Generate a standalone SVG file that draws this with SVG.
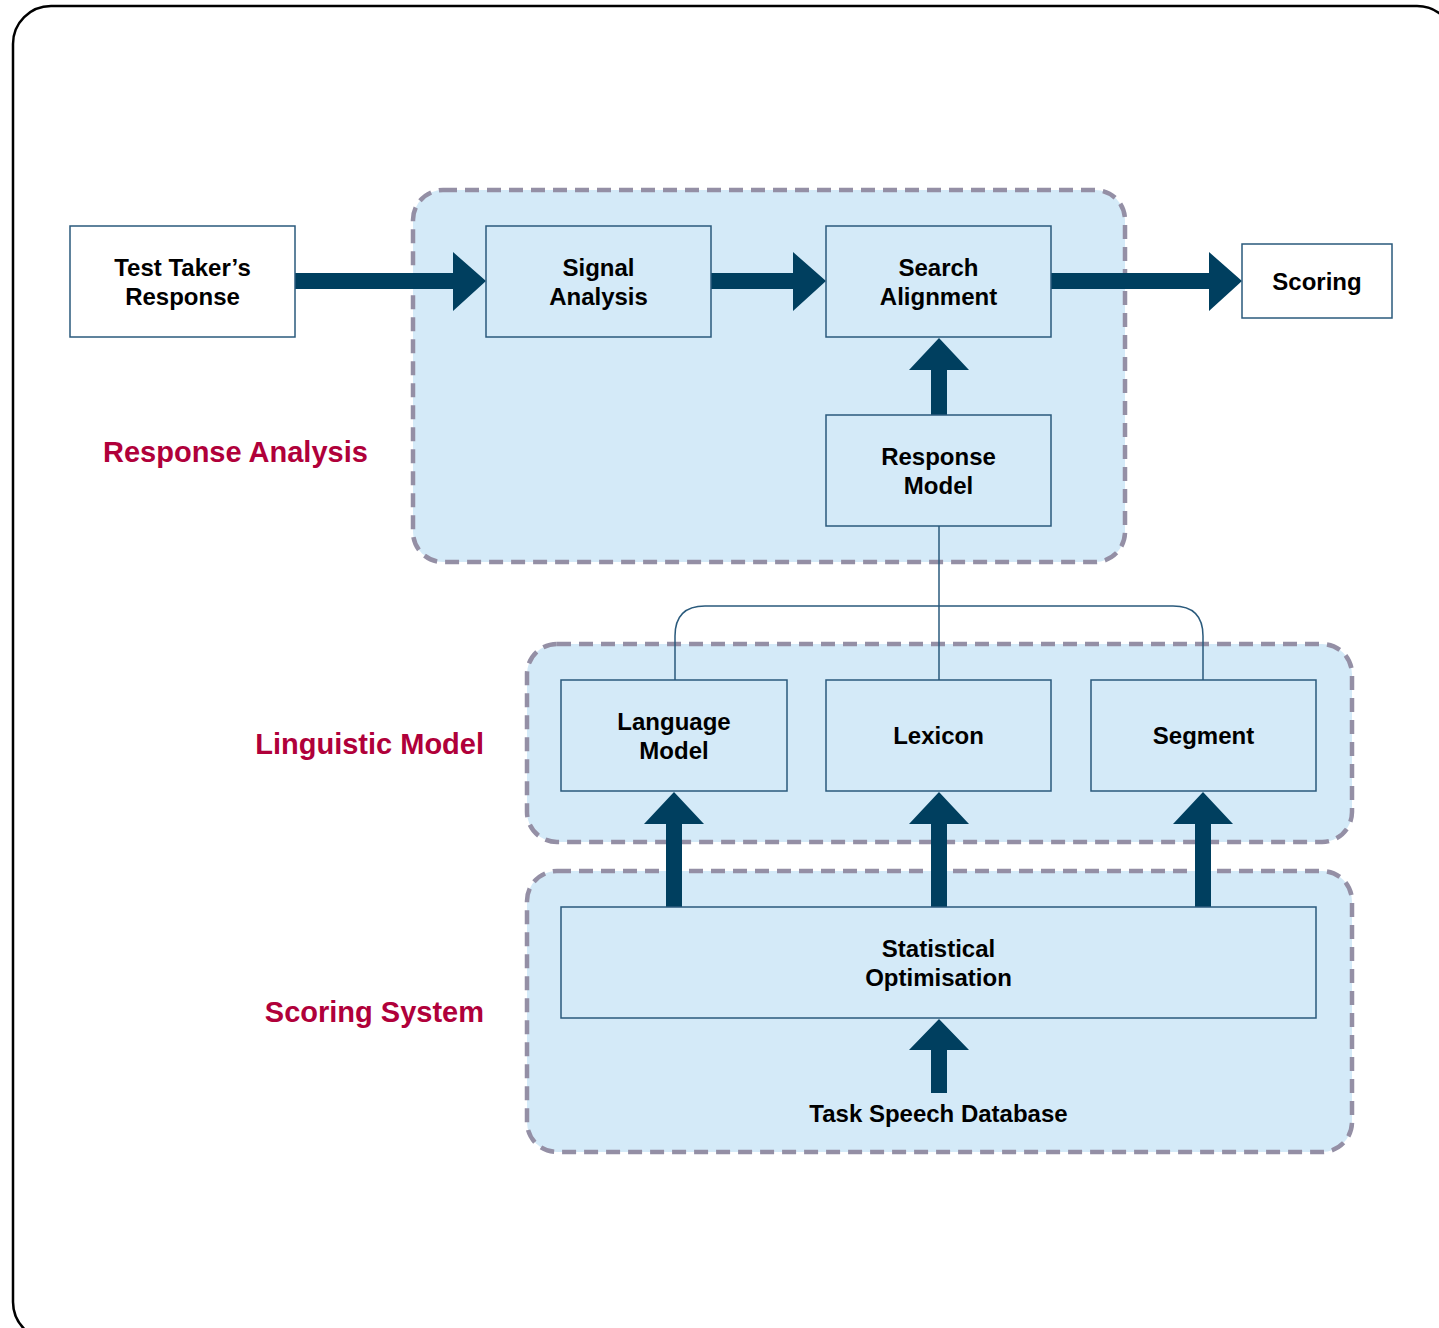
<svg xmlns="http://www.w3.org/2000/svg" width="1439" height="1328" viewBox="0 0 1439 1328">
<style>
.grp{fill:#d4eaf8;stroke:#948fa5;stroke-width:4.5;stroke-dasharray:14 8}
.box{fill:#d4eaf8;stroke:#2a5a7c;stroke-width:1.5}
.wbox{fill:#ffffff;stroke:#2a5a7c;stroke-width:1.5}
.lbl{font-family:"Liberation Sans",Arial,sans-serif;font-weight:bold;font-size:24px;fill:#000;text-anchor:middle}
.glbl{font-family:"Liberation Sans",Arial,sans-serif;font-weight:bold;font-size:29px;fill:#b0003a}
.arr{fill:#003f5f}
.thin{fill:none;stroke:#2a5a7c;stroke-width:1.5}
</style>
<rect x="13" y="6" width="1442" height="1334" rx="38" fill="#ffffff" stroke="#000" stroke-width="2.5"/>
<g id="groups">
<rect id="grp-response-analysis" class="grp" x="413" y="190" width="712" height="372" rx="30"/>
<rect id="grp-linguistic-model" class="grp" x="527" y="644" width="825" height="198" rx="30"/>
<rect id="grp-scoring-system" class="grp" x="527" y="871" width="825" height="281" rx="30"/>
<text class="glbl" x="103" y="462">Response Analysis</text>
<text class="glbl" x="484" y="754" text-anchor="end">Linguistic Model</text>
<text class="glbl" x="484" y="1022" text-anchor="end">Scoring System</text>
</g>
<g id="connectors">
<path class="thin" d="M939,526 V680"/>
<path class="thin" d="M675,680 V636 Q675,606 705,606 H1173 Q1203,606 1203,636 V680"/>
<polygon class="arr" points="295,273 453,273 453,252 486,281 453,311 453,289 295,289"/>
<polygon class="arr" points="711,273 793,273 793,252 826,281 793,311 793,289 711,289"/>
<polygon class="arr" points="1051,273 1209,273 1209,252 1242,281 1209,311 1209,289 1051,289"/>
<polygon class="arr" points="931,415 931,370 909,370 939,338 969,370 947,370 947,415"/>
<polygon class="arr" points="666,907 666,824 644,824 674,792 704,824 682,824 682,907"/>
<polygon class="arr" points="931,907 931,824 909,824 939,792 969,824 947,824 947,907"/>
<polygon class="arr" points="1195,907 1195,824 1173,824 1203,792 1233,824 1211,824 1211,907"/>
<polygon class="arr" points="931,1093 931,1050 909,1050 939,1019 969,1050 947,1050 947,1093"/>
</g>
<g id="node-test-taker">
<rect class="wbox" x="70" y="226" width="225" height="111"/>
<text class="lbl" x="182.5" y="276">Test Taker’s</text>
<text class="lbl" x="182.5" y="305">Response</text>
</g>
<g id="node-signal-analysis">
<rect class="box" x="486" y="226" width="225" height="111"/>
<text class="lbl" x="598.5" y="276">Signal</text>
<text class="lbl" x="598.5" y="305">Analysis</text>
</g>
<g id="node-search-alignment">
<rect class="box" x="826" y="226" width="225" height="111"/>
<text class="lbl" x="938.5" y="276">Search</text>
<text class="lbl" x="938.5" y="305">Alignment</text>
</g>
<g id="node-scoring">
<rect class="wbox" x="1242" y="244" width="150" height="74"/>
<text class="lbl" x="1317" y="290">Scoring</text>
</g>
<g id="node-response-model">
<rect class="box" x="826" y="415" width="225" height="111"/>
<text class="lbl" x="938.5" y="465">Response</text>
<text class="lbl" x="938.5" y="494">Model</text>
</g>
<g id="node-language-model">
<rect class="box" x="561" y="680" width="226" height="111"/>
<text class="lbl" x="674" y="730">Language</text>
<text class="lbl" x="674" y="759">Model</text>
</g>
<g id="node-lexicon">
<rect class="box" x="826" y="680" width="225" height="111"/>
<text class="lbl" x="938.5" y="744">Lexicon</text>
</g>
<g id="node-segment">
<rect class="box" x="1091" y="680" width="225" height="111"/>
<text class="lbl" x="1203.5" y="744">Segment</text>
</g>
<g id="node-statistical-optimisation">
<rect class="box" x="561" y="907" width="755" height="111"/>
<text class="lbl" x="938.5" y="957">Statistical</text>
<text class="lbl" x="938.5" y="986">Optimisation</text>
</g>
<g id="node-task-speech-database">
<text class="lbl" x="938.5" y="1122">Task Speech Database</text>
</g>
</svg>
